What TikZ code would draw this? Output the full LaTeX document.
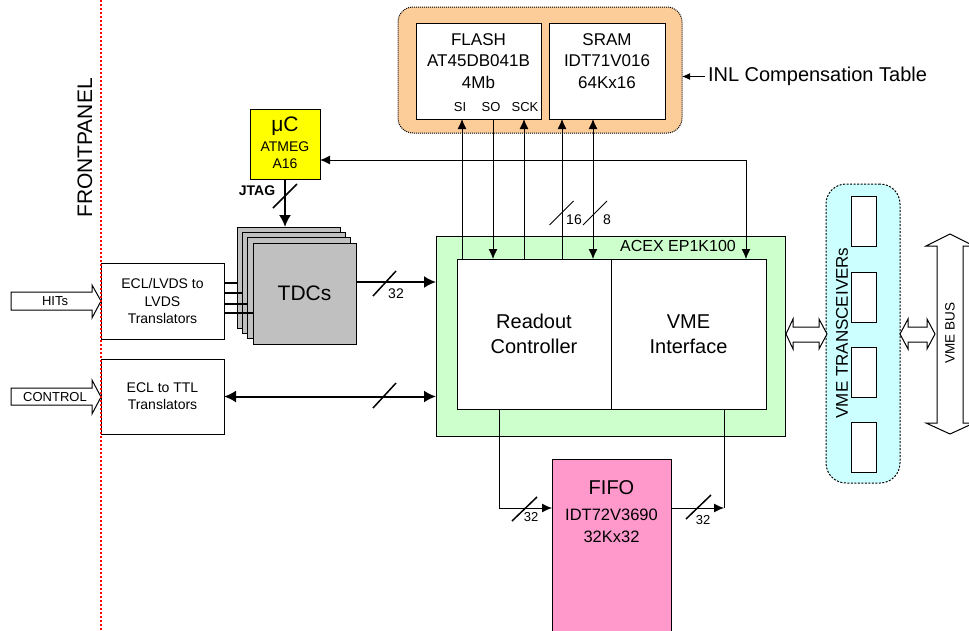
\documentclass[tikz,border=0pt]{standalone}
\usepackage{fontspec}
\setmainfont{Liberation Sans}
\usetikzlibrary{arrows.meta,calc}
\newcommand{\fsz}[2]{\fontsize{#1pt}{#2pt}\selectfont}
\definecolor{tdcgray}{RGB}{192,192,192}
\definecolor{acexgreen}{RGB}{204,255,204}
\definecolor{memorange}{RGB}{252,204,153}
\definecolor{vmecyan}{RGB}{204,255,255}
\definecolor{fifopink}{RGB}{255,153,204}
\definecolor{ucyellow}{RGB}{255,255,0}
\definecolor{fpred}{RGB}{255,0,0}
\begin{document}
\begin{tikzpicture}[x=1pt,y=-1pt,
  every node/.style={inner sep=0pt,outer sep=0pt},
  box/.style={draw,line width=1pt,fill=white},
  tdcbox/.style={draw,line width=1pt,fill=tdcgray,minimum width=103pt,minimum height=101pt},
  thinar/.style={line width=1pt,>={Latex[length=10pt,width=9pt]}},
  thickar/.style={line width=2pt,>={Latex[length=12pt,width=12pt]}},
  blockarrow/.style={draw,line width=1pt,fill=white,line join=miter},
  lbl/.style={font=\fsz{14}{16}}
]
\useasboundingbox (0,0) rectangle (969,630);
\clip (0,0) rectangle (969,630);

% ---------- memory group ----------
\node[draw,line width=1pt,dash pattern=on 1pt off 1pt,fill=memorange,rounded corners=15pt,
      minimum width=284pt,minimum height=126pt] (mem) at (540,70) {};
\node[box,minimum width=125pt,minimum height=96pt] (flash) at (478.5,71) {};
\node[box,minimum width=116pt,minimum height=96pt] (sram) at (607,71) {};
\node[font=\fsz{17}{21.5},align=center] (flasht) at (478.5,61) {FLASH\\AT45DB041B\\4Mb};
\node[font=\fsz{17}{21.5},align=center] (sramt) at (607,61) {SRAM\\IDT71V016\\64Kx16};
\node[font=\fsz{13}{15}] (si) at (460,107) {SI};
\node[font=\fsz{13}{15}] (so) at (491,107) {SO};
\node[font=\fsz{13}{15}] (sck) at (525,107) {SCK};
\node[font=\fsz{20}{22},anchor=west,inner sep=3pt] (inl) at (705,76.5) {INL Compensation Table};
\draw[line width=1pt,-{Latex[length=8pt,width=7pt]}] (inl.west) -- (inl.west -| mem.east);

% ---------- FPGA ----------
\node[draw,line width=1pt,fill=acexgreen,minimum width=349pt,minimum height=200pt] (acex) at (610.5,336) {};
\node[font=\fsz{16}{18}] (acexl) at (678,246) {ACEX EP1K100};
\node[box,minimum width=154pt,minimum height=150pt,align=center,font=\fsz{20}{25}] (rc) at (534,334) {Readout\\Controller};
\node[box,minimum width=155pt,minimum height=150pt,align=center,font=\fsz{20}{25}] (vmei) at (688.5,334) {VME\\Interface};

% ---------- FIFO ----------
\node[box,fill=fifopink,minimum width=119pt,minimum height=181pt] (fifo) at (611.5,549.5) {};
\node[font=\fsz{20}{22}] (fifot1) at (611.5,488) {FIFO};
\node[font=\fsz{16.5}{22},align=center] (fifot2) at (611.5,526) {IDT72V3690\\32Kx32};

% ---------- uC ----------
\node[box,fill=ucyellow,minimum width=70pt,minimum height=70pt] (uc) at (285,144) {};
\node[font=\fsz{21}{22}] (uct1) at (285,126) {μC};
\node[font=\fsz{14}{17},align=center] (uct2) at (285,155.5) {ATMEG\\A16};

% ---------- TDCs ----------
\node[tdcbox] (tdc0) at (288.5,277.5) {};
\node[tdcbox] (tdc1) at (293.8,282.8) {};
\node[tdcbox] (tdc2) at (299.2,288.2) {};
\node[tdcbox,font=\fsz{21}{24}] (tdc3) at (304.5,293.5) {TDCs};

% ---------- translators ----------
\node[box,minimum width=123pt,minimum height=76pt,align=center,font=\fsz{14}{17.5}] (ecllvds) at (162.5,301) {ECL/LVDS to\\LVDS\\Translators};
\node[box,minimum width=123pt,minimum height=75pt,align=center,font=\fsz{14}{17}] (ecltt) at (162.5,396.5) {ECL to TTL\\Translators};

% input block arrows
\draw[blockarrow] (11,292) -- (92,292) -- (92,285) -- (101,301) -- (92,318) -- (92,310) -- (11,310) -- cycle;
\node[font=\fsz{13}{15}] (hits) at (55,301) {HITs};
\draw[blockarrow] (11,388) -- (92,388) -- (92,380) -- (101,397) -- (92,414) -- (92,405) -- (11,405) -- cycle;
\node[font=\fsz{13}{15}] (control) at (55,397) {CONTROL};

% ---------- VME transceivers ----------
\node[draw,line width=1pt,dash pattern=on 2pt off 1.5pt,fill=vmecyan,rounded corners=20pt,
      minimum width=74pt,minimum height=299pt] (vmet) at (863,333.5) {};
\node[box,minimum width=25pt,minimum height=50pt] (t1) at (863.5,221) {};
\node[box,minimum width=25pt,minimum height=50pt] (t2) at (863.5,297) {};
\node[box,minimum width=25pt,minimum height=50pt] (t3) at (863.5,372) {};
\node[box,minimum width=25pt,minimum height=50pt] (t4) at (863.5,447.5) {};
\node[rotate=90,font=\fsz{17}{20}] (vmetl) at (842,333) {VME TRANSCEIVERs};

% double block arrows
\draw[blockarrow] (786,334) -- (793,319) -- (793,327) -- (819,327) -- (819,319) -- (827,334) -- (819,349) -- (819,342) -- (793,342) -- (793,349) -- cycle;
\draw[blockarrow] (900,334) -- (908,319) -- (908,327) -- (927,327) -- (927,319) -- (935,334) -- (927,349) -- (927,342) -- (908,342) -- (908,349) -- cycle;
% VME bus
\draw[blockarrow] (950,234) -- (974,246) -- (963,246) -- (963,423) -- (974,423) -- (950,434) -- (926,423) -- (937,423) -- (937,246) -- (926,246) -- cycle;
\node[rotate=90,font=\fsz{13.5}{15}] (vmebus) at (950,333) {VME BUS};

% ---------- connectors ----------
\coordinate (xsi) at (462,0);
\coordinate (xso) at (493,0);
\coordinate (xsck) at (524,0);
\coordinate (xs1) at (562,0);
\coordinate (xs2) at (593,0);
\draw[thinar,->] (xsi |- rc.north) -- (xsi |- flash.south);
\draw[thinar,->] (xso |- flash.south) -- (xso |- rc.north);
\draw[thinar,->] (xsck |- rc.north) -- (xsck |- flash.south);
\draw[thinar,->] (xs1 |- rc.north) -- (xs1 |- sram.south);
\draw[thinar,<->] (xs2 |- rc.north) -- (xs2 |- sram.south);
\draw[line width=1pt] (549.5,225) -- ++(24,-24);
\draw[line width=1pt] (583,225) -- ++(24,-24);
\node[lbl] (l16) at (574,220) {16};
\node[lbl] (l8) at (607,220) {8};

% uC <-> VME interface
\coordinate (ucc) at (746,160);
\draw[thinar,<->] (uc.east |- ucc) -- (ucc) -- (ucc |- vmei.north);

% JTAG
\draw[thickar,->] (uc.south) -- (uc.south |- tdc0.north);
\draw[line width=1.5pt] (273,208) -- ++(24,-24);
\node[font=\bfseries\fsz{14}{16}] (jtag) at (257,191) {JTAG};

% translators -> TDCs
\coordinate (h0) at (0,283);
\coordinate (h1) at (0,293);
\coordinate (h2) at (0,304);
\coordinate (h3) at (0,313);
\draw[line width=2pt] (ecllvds.east |- h0) -- (tdc0.west |- h0);
\draw[line width=2pt] (ecllvds.east |- h1) -- (tdc1.west |- h1);
\draw[line width=2pt] (ecllvds.east |- h2) -- (tdc2.west |- h2);
\draw[line width=2pt] (ecllvds.east |- h3) -- (tdc3.west |- h3);

% TDCs -> FPGA
\coordinate (y32) at (0,282);
\draw[thickar,->] (tdc3.east |- y32) -- (acex.west |- y32);
\draw[line width=1.5pt] (373,296) -- ++(23,-25);
\node[lbl] (l32a) at (396,294) {32};

% ECL to TTL <-> FPGA
\draw[thickar,<->] (ecltt.east) -- (ecltt.east -| acex.west);
\draw[line width=1.5pt] (373,408) -- ++(23,-25);

% FIFO
\coordinate (fl) at (499,508);
\draw[thinar,->] (fl |- rc.south) -- (fl) -- (fl -| fifo.west);
\draw[line width=1.5pt] (512,521) -- ++(25,-24);
\node[font=\fsz{13}{15}] (l32b) at (531,517) {32};
\coordinate (fr) at (724,508);
\draw[thinar,->] (fr -| fifo.east) -- (fr);
\draw[line width=1pt] (fr) -- (fr |- vmei.south);
\draw[line width=1.5pt] (686,519) -- ++(25,-24);
\node[font=\fsz{13}{15}] (l32c) at (703,520) {32};

% ---------- front panel ----------
\draw[fpred,line width=1.3pt,dash pattern=on 2pt off 2pt] (101,0) -- (101,630);
\node[rotate=90,font=\fsz{21}{25}] (fptxt) at (85,148) {FRONTPANEL};
\end{tikzpicture}
\end{document}
